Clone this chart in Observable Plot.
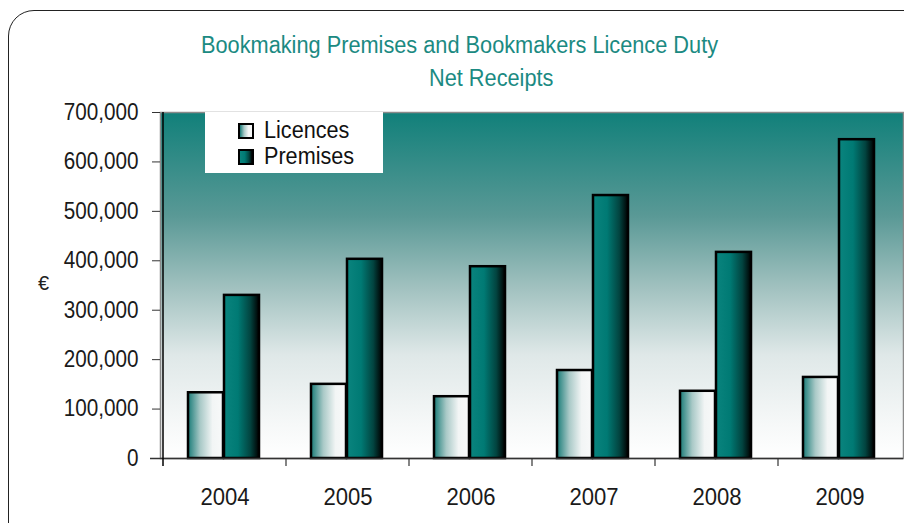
<!DOCTYPE html>
<html><head><meta charset="utf-8">
<script src="https://cdn.jsdelivr.net/npm/d3@7"></script>
<script src="https://cdn.jsdelivr.net/npm/@observablehq/plot@0.6"></script>
<style>
body{margin:0;background:#fff;}
#wrap{position:relative;width:904px;height:523px;overflow:hidden;font-family:"Liberation Sans",Arial,sans-serif;}
#border{position:absolute;left:8px;top:10px;width:980px;height:600px;border:1.5px solid #222;border-radius:26px;}
#chart{position:absolute;left:0;top:0;}
.t{position:absolute;color:#1b8a82;font-size:23px;line-height:23px;white-space:nowrap;transform:scaleX(0.945);transform-origin:left center;}
#legend{position:absolute;left:205px;top:112px;width:178px;height:61px;background:#fff;}
.li{position:absolute;left:33px;font-size:23px;line-height:23px;color:#111;white-space:nowrap;}
.sw{display:inline-block;width:12px;height:12px;border:2px solid #000;margin-right:10px;vertical-align:-1px;}
.lt{display:inline-block;transform:scaleX(0.94);transform-origin:left center;}
#euro{position:absolute;left:38px;top:272px;font-size:20px;color:#222;}
</style></head>
<body>
<div id="wrap">
  <div id="border"></div>
  <div id="chart"></div>
  <div class="t" style="left:201px;top:34px">Bookmaking Premises and Bookmakers Licence Duty</div>
  <div class="t" style="left:429px;top:67px">Net Receipts</div>
  <div id="legend">
    <div class="li" style="top:7px"><span class="sw" style="background:linear-gradient(to right,#1a7c78,#a9c9c7 35%,#f2f5f5 70%,#f8f9f9)"></span><span class="lt">Licences</span></div>
    <div class="li" style="top:33px"><span class="sw" style="background:linear-gradient(to right,#0a847e,#007a74 40%,#024440 75%,#000)"></span><span class="lt">Premises</span></div>
  </div>
  <div id="euro">€</div>
</div>
<script>
const years = ["2004","2005","2006","2007","2008","2009"];
const series = ["Licences","Premises"];
const licences = [133000,150000,125000,178000,136000,164000];
const premises = [330000,403000,388000,532000,417000,645000];
const yTicks = [0,100000,200000,300000,400000,500000,600000,700000];

const licData = years.map((y,i)=>({year:y, series:series[0], value:licences[i]}));
const premData = years.map((y,i)=>({year:y, series:series[1], value:premises[i]}));

const font = '"Liberation Sans",Arial,sans-serif';
const svg = Plot.plot({
  width:904, height:523,
  marginLeft:160, marginRight:1, marginTop:112, marginBottom:65,
  style:{fontFamily:font, fontSize:"23px", color:"#1a1a1a", background:"transparent", overflow:"visible"},
  x:{domain:years, padding:0},
  y:{domain:[0,700000]},
  marks:[
    Plot.frame({fill:"url(#gBg)", stroke:"#8a8a8a", strokeWidth:1.5}),
    Plot.barY(licData, {x:"year", y:"value", fill:"url(#gLic)", stroke:"#000", strokeWidth:2.5, insetLeft:25, insetRight:63}),
    Plot.barY(premData, {x:"year", y:"value", fill:"url(#gPrem)", stroke:"#000", strokeWidth:2.5, insetLeft:61, insetRight:27}),
    Plot.ruleY([0], {stroke:"#333", strokeWidth:1.5, insetLeft:-10}),
    Plot.ruleX([years[0]], {dx:-62, stroke:"#000", strokeWidth:1.5, insetBottom:-8}),
    Plot.ruleX(years.slice(1), {dx:-62, y1:0, y2:0, stroke:"#333", strokeWidth:1.2, insetBottom:-8}),
    Plot.axisY({ticks:yTicks, tickSize:8, tickPadding:14, tickFormat:d3.format(","), label:null, stroke:"#333"}),
    Plot.axisX({tickSize:0, tickPadding:30, label:null})
  ]
});
const defs = d3.select(svg).insert("defs", ":first-child");
function grad(id, stops, vertical){
  const g = defs.append("linearGradient").attr("id", id)
    .attr("x1",0).attr("y1",0).attr("x2", vertical?0:1).attr("y2", vertical?1:0);
  stops.forEach(([o,c])=>g.append("stop").attr("offset",o).attr("stop-color",c));
}
grad("gBg", [[0,"#11807a"],[0.3,"#5a9996"],[0.5,"#9fc0be"],[0.7,"#dfe8e8"],[0.9,"#f6f8f8"],[1,"#ffffff"]], true);
grad("gLic", [[0,"#1a7c78"],[0.35,"#a9c9c7"],[0.7,"#f2f5f5"],[1,"#f8f9f9"]], false);
grad("gPrem", [[0,"#0a847e"],[0.4,"#007a74"],[0.75,"#024440"],[1,"#000000"]], false);
// narrow the tick labels horizontally around their anchor to mimic a condensed face
function narrow(sel, k){
  d3.select(svg).selectAll(sel).each(function(){
    const t = d3.select(this);
    const xa = t.attr("x");
    const ok = xa != null && !isNaN(+xa);
    const x = ok ? +xa : 0;
    if (ok) t.attr("x", null);
    const tr = t.attr("transform") || "";
    t.attr("transform", `${tr} translate(${x},0) scale(${k},1)`);
  });
}
narrow('g[aria-label="y-axis tick label"] text', 0.9);
narrow('g[aria-label="x-axis tick label"] text', 0.96);
document.getElementById("chart").appendChild(svg);
</script>
</body></html>
